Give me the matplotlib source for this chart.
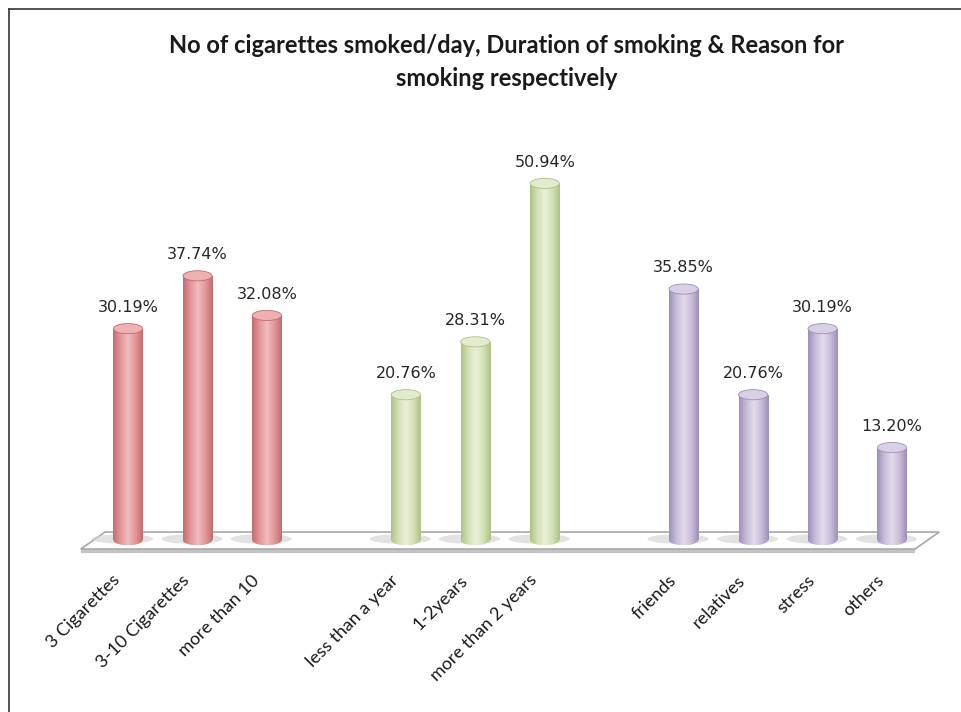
import numpy as np
import matplotlib
matplotlib.use("Agg")
import matplotlib.pyplot as plt
from matplotlib.patches import Ellipse, Polygon
from matplotlib.lines import Line2D
from matplotlib.colors import LinearSegmentedColormap
import matplotlib.transforms as mtransforms

# ---- data ----
categories = ["3 Cigarettes", "3-10 Cigarettes", "more than 10", "",
              "less than a year", "1-2years", "more than 2 years", "",
              "friends", "relatives", "stress", "others"]
values = [30.19, 37.74, 32.08, None,
          20.76, 28.31, 50.94, None,
          35.85, 20.76, 30.19, 13.20]
groups = [0, 0, 0, None, 1, 1, 1, None, 2, 2, 2, 2]
title = "No of cigarettes smoked/day, Duration of smoking & Reason for\nsmoking respectively"

# ---- style ----
body_light = ["#f0bdbe", "#eaf1da", "#e2dcec"]
body_mid = ["#e49698", "#d4e2b6", "#c8bdda"]
body_dark = ["#c06d70", "#aec185", "#9d8fb8"]
top_col = ["#eeb0b1", "#e2ebcf", "#d8d0e5"]

plt.rcParams['font.family'] = ['Lato', 'DejaVu Sans']
fig = plt.figure(figsize=(9.61, 7.12), dpi=100)
fig.patch.set_facecolor("white")

# partial frame (top and left)
fig.add_artist(Line2D([9/961, 1.0], [1-9/712, 1-9/712], color="#333333", lw=1.2, transform=fig.transFigure))
fig.add_artist(Line2D([9/961, 9/961], [0, 1-9/712], color="#333333", lw=1.2, transform=fig.transFigure))

ax = fig.add_axes([0.0826, 0.2317, 0.8962, 0.5998])
ax.set_xlim(-0.7, 11.7)
ax.set_ylim(-1, 60)
ax.set_autoscale_on(False)
for s in ax.spines.values():
    s.set_visible(False)
ax.yaxis.set_visible(False)
ax.set_facecolor("none")

# floor
ax.plot([-0.68, 11.33], [-1.55, -1.55], color="#c4c4c4", lw=3.0, zorder=1,
        solid_capstyle="butt", clip_on=False)
floor = Polygon([(-0.68, -1.29), (11.33, -1.29), (11.68, 1.14), (-0.33, 1.14)],
                closed=True, facecolor="white", edgecolor="#a8a8a8", lw=1.2, zorder=1.2,
                clip_on=False)
ax.add_patch(floor)

xs = np.arange(len(categories))
bw = 0.42
eh = 1.45
grad = np.linspace(0, 1, 200)
for x, v, g in zip(xs, values, groups):
    if v is None:
        continue
    # base shadow
    ax.add_patch(Ellipse((x - 0.08, 0.15), bw * 2.1, eh * 0.95, facecolor="#cfcfcf",
                         edgecolor="none", alpha=0.6, zorder=2, clip_on=False))
    bars = ax.bar(x, v, width=bw, bottom=0, color=body_mid[g], edgecolor="none", zorder=3)
    rect = bars[0]
    cmap = LinearSegmentedColormap.from_list("c", [body_dark[g], body_mid[g], body_light[g],
                                                   body_mid[g], body_dark[g]])
    img = ax.imshow(np.tile(grad, (2, 1)), cmap=cmap, aspect="auto",
                    extent=(x - bw / 2, x + bw / 2, 0, v), zorder=3.5, interpolation="bilinear")
    img.set_clip_path(rect)
    bottom_el = Ellipse((x, 0), bw, eh, facecolor=body_mid[g], edgecolor="none", zorder=3.2)
    ax.add_patch(bottom_el)
    img2 = ax.imshow(np.tile(grad, (2, 1)), cmap=cmap, aspect="auto",
                     extent=(x - bw / 2, x + bw / 2, -eh / 2, 0), zorder=3.3, interpolation="bilinear")
    img2.set_clip_path(bottom_el)
    ax.add_patch(Ellipse((x, v), bw, eh, facecolor=top_col[g], edgecolor=body_dark[g],
                         lw=0.6, zorder=4))
    ax.annotate(f"{v:.2f}%", (x, v), xytext=(0, 10), textcoords="offset points",
                ha="center", va="bottom", fontsize=11.5, color="#262626",
                family=["DejaVu Sans"], zorder=5)

ax.set_xticks(xs)
ax.set_xticklabels(categories, rotation=45, ha="right", rotation_mode="anchor",
                   fontsize=13, color="#1a1a1a")
ax.tick_params(axis="x", length=0, pad=18)
offset = mtransforms.ScaledTranslation(-16 / 100, 0, fig.dpi_scale_trans)
for lab in ax.get_xticklabels():
    lab.set_transform(lab.get_transform() + offset)

fig.text(0.527, 0.913, title, ha="center", va="center", fontsize=17,
         fontweight="bold", color="#1a1a1a", linespacing=1.55)

fig.savefig("out.png", dpi=100, facecolor="white")
